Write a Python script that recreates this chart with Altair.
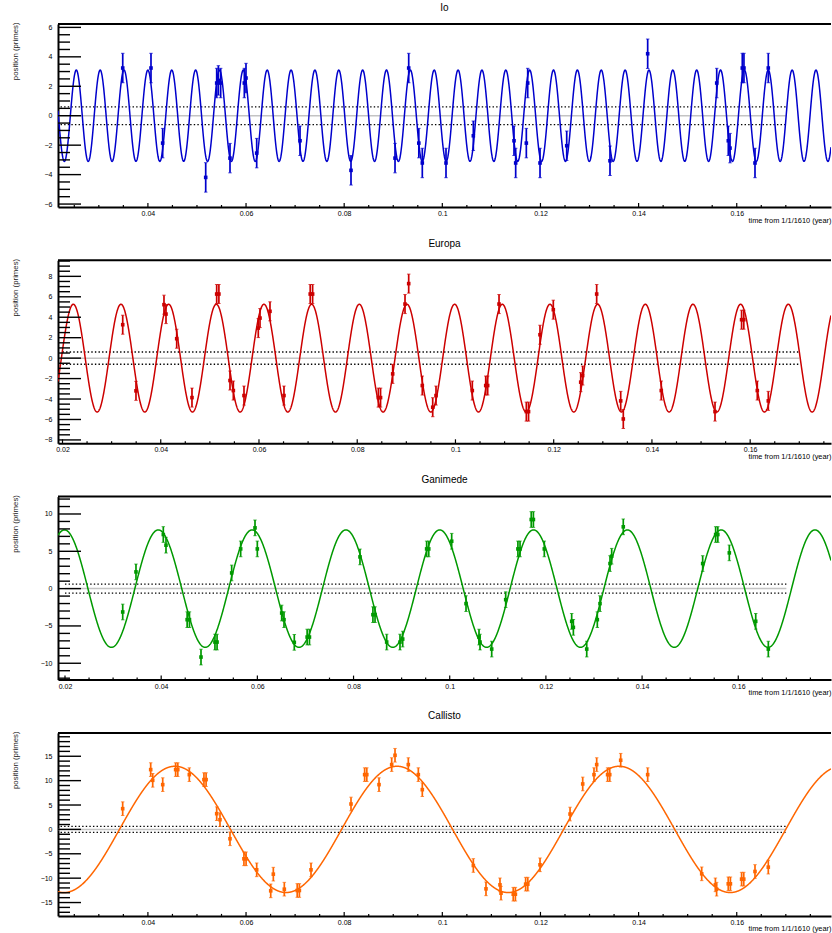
import altair as alt
import numpy as np
import pandas as pd

FONT = "Liberation Sans"
W, H = 773, 183

moon_names = ["Io", "Europa", "Ganimede", "Callisto"]
moon_colors = ["#0000cc", "#cc0000", "#009900", "#ff6600"]

# observed positions (time in years from 1/1/1610, position in primes)
io_t = [0.03487, 0.04063, 0.04301, 0.05178, 0.05402, 0.05436, 0.05483, 0.05673, 0.05965, 0.05999,
        0.06217, 0.0710, 0.08139, 0.09036, 0.09315, 0.09521, 0.09592, 0.10075, 0.10632, 0.11461,
        0.11495, 0.11712, 0.1174, 0.11991, 0.12535, 0.13417, 0.14185, 0.15592, 0.15828, 0.15863,
        0.16113, 0.16147, 0.16372, 0.16643]
io_v = [3.24, 3.24, -1.86, -4.19, 2.22, 2.4, 2.22, -2.88, 2.22, 2.56,
        -2.54, -1.70, -3.71, -2.88, 3.24, -1.86, -3.21, -3.21, -1.36, -1.70,
        -3.21, -1.86, 2.22, -3.21, -2.04, -3.06, 4.21, 2.22, -1.70, -2.2,
        3.24, 3.24, -3.21, 3.24]

europa_t = [0.03226, 0.03496, 0.04066, 0.04107, 0.04325, 0.04636, 0.05139, 0.05184, 0.0541, 0.05478,
            0.05695, 0.05986, 0.06021, 0.06224, 0.06509, 0.07043, 0.07092, 0.0843, 0.08475, 0.08722,
            0.08973, 0.09048, 0.09325, 0.09537, 0.09604, 0.10343, 0.10616, 0.10656, 0.10887, 0.11443,
            0.11488, 0.11721, 0.11992, 0.1255, 0.1259, 0.12875, 0.13364, 0.13417, 0.1419, 0.15284,
            0.15825, 0.1587, 0.16145, 0.16369]
europa_v = [3.27, -3.2, 5.23, 4.31, 1.9, -3.86, 6.27, 6.27, -2.19, -3.17,
            -3.66, 2.94, 3.92, 4.58, -3.66, 6.27, 6.27, -3.86, -3.86, -1.54,
            5.29, 7.29, -2.68, -4.8, -3.66, -3.17, -2.68, -2.68, 5.29, -5.23,
            -5.23, 2.29, 4.74, -2.35, -1.7, 6.27, -4.18, -5.95, -3.17, -5.23,
            3.76, 3.76, -3.17, -4.18]

ganimede_t = [0.0320, 0.03476, 0.04044, 0.041, 0.0454, 0.04588, 0.04828, 0.05118, 0.05162, 0.05466,
              0.05653, 0.05951, 0.05999, 0.06506, 0.06554, 0.06768, 0.07035, 0.07083, 0.08134, 0.08403,
              0.08447, 0.08689, 0.08966, 0.09022, 0.0952, 0.09564, 0.10041, 0.10339, 0.10609, 0.1063,
              0.10873, 0.11164, 0.11418, 0.11462, 0.11695, 0.1174, 0.11967, 0.12536, 0.12571, 0.12849,
              0.13069, 0.13125, 0.13333, 0.13368, 0.13609, 0.1526, 0.1553, 0.15575, 0.15814, 0.16363,
              0.16625]
ganimede_v = [-3.13, 2.24, 7.25, 5.82, -4.16, -4.16, -9.17, -7.16, -7.16, 2.1,
              5.32, 8.14, 5.32, -3.27, -4.16, -7.2, -6.49, -6.49, 4.25, -3.49,
              -3.49, -7.16, -7.16, -6.76, 5.32, 5.32, 6.35, -2.01, -6.49, -7.16,
              -8.1, -1.48, 5.32, 5.32, 9.26, 9.26, 5.32, -4.38, -5.19, -8.1,
              -4.16, -2.01, 3.36, 4.34, 8.28, 3.36, 7.25, 7.25, 4.79, -4.38,
              -8.1]

callisto_t = [0.03486, 0.04057, 0.04098, 0.04302, 0.04565, 0.04609, 0.04844, 0.05142, 0.05186, 0.05402,
              0.05469, 0.05673, 0.05957, 0.06001, 0.06217, 0.06503, 0.06556, 0.0678, 0.07043, 0.07087,
              0.07324, 0.08139, 0.08417, 0.08461, 0.0871, 0.08968, 0.09036, 0.09307, 0.09511, 0.09592,
              0.10632, 0.1089, 0.11175, 0.11196, 0.11445, 0.11489, 0.11698, 0.11742, 0.11991, 0.12603,
              0.12861, 0.13091, 0.13146, 0.13368, 0.13412, 0.13635, 0.14185, 0.15286, 0.15565, 0.1559,
              0.15827, 0.15871, 0.16099, 0.16143, 0.16372, 0.16643]
callisto_v = [4.25, 12.26, 10.07, 9.18, 12.26, 12.26, 11.23, 10.21, 10.21, 3.22,
              1.99, -1.92, -6.03, -6.03, -8.29, -12.6, -9.18, -12.26, -12.53, -12.53,
              -8.29, 5.21, 11.23, 11.23, 9.18, 13.29, 15.2, 13.29, 11.23, 8.15,
              -7.4, -12.19, -11.37, -13.08, -13.29, -13.29, -11.23, -11.23, -7.26, 3.15,
              9.32, 11.23, 13.29, 11.23, 11.23, 14.18, 11.23, -9.11, -11.37, -12.26,
              -11.16, -11.16, -10.2, -10.2, -8.63, -7.74]

obs_t = [io_t, europa_t, ganimede_t, callisto_t]
obs_v = [io_v, europa_v, ganimede_v, callisto_v]
point_errors = [1.0, 0.93, 1.05, 1.4]

# fitted sinusoid parameters (amplitude, period in years, time of a maximum)
fit_amplitude = [3.1, 5.27, 7.87, 12.95]
fit_period = [0.0048626, 0.009704, 0.019508, 0.04526]
fit_peak = [0.02541, 0.0222, 0.0394, 0.04552]

x_domains = [[0.021679, 0.179209], [0.019084, 0.176454], [0.018544, 0.179284], [0.021679, 0.179209]]
y_domains = [[-6.2, 6.23], [-8.33, 9.57], [-12.19, 12.33], [-17.74, 19.79]]
y_major_ticks = [[-6, -4, -2, 0, 2, 4, 6], [-8, -6, -4, -2, 0, 2, 4, 6, 8],
                 [-10, -5, 0, 5, 10], [-15, -10, -5, 0, 5, 10, 15]]
y_minor_step = [0.5, 0.5, 1, 1]
x_major_ticks = [0.02, 0.04, 0.06, 0.08, 0.1, 0.12, 0.14, 0.16]
x_minor_step = 0.005
band_half = 0.6
band_range = [0.02, 0.17]

x_title = "time from 1/1/1610 (year)"
y_title = "position (primes)"


def panel(i):
    c = moon_colors[i]
    xd, yd = x_domains[i], y_domains[i]
    xs = alt.Scale(domain=xd, nice=False, zero=False)
    ys = alt.Scale(domain=yd, nice=False, zero=False)
    xvals = [v for v in x_major_ticks if xd[0] <= v <= xd[1]]
    xaxis = alt.Axis(values=xvals, format="~g", labelFontSize=7, labelPadding=2.5, labelColor="black",
                     labelFlush=False, labelOverlap=False, ticks=False, tickSize=0, grid=False,
                     domainColor="black", domainWidth=2, title=x_title, titleFontSize=7.4,
                     titleFontWeight="normal", titleColor="black", titleAnchor="end", titleAlign="right",
                     titleX=W, titleY=9, titleBaseline="top")
    yaxis = alt.Axis(values=y_major_ticks[i], format="d", labelFontSize=7, labelPadding=6, labelColor="black",
                     labelFlush=False, labelOverlap=False, ticks=False, tickSize=0, grid=False,
                     domainColor="black", domainWidth=2, title=y_title, titleFontSize=7.8,
                     titleFontWeight="normal", titleColor="#222222", titleAngle=270, titleX=-43, titleY=-2,
                     titleAlign="right", titleBaseline="middle")

    def X(f):
        return alt.X(f, type="quantitative", scale=xs, axis=xaxis)

    def Y(f):
        return alt.Y(f, type="quantitative", scale=ys, axis=yaxis)

    tt = np.linspace(xd[0], xd[1], 3000)
    curve_df = pd.DataFrame({"t": tt, "y": fit_amplitude[i] * np.cos(2 * np.pi * (tt - fit_peak[i]) / fit_period[i])})
    err = point_errors[i]
    pts = pd.DataFrame({"t": obs_t[i], "v": obs_v[i]})
    pts["lo"] = pts["v"] - err
    pts["hi"] = pts["v"] + err

    zero_df = pd.DataFrame({"t0": [band_range[0]], "t1": [band_range[1]], "y": [0.0]})
    band_df = pd.DataFrame({"t0": [band_range[0]] * 2, "t1": [band_range[1]] * 2, "y": [-band_half, band_half]})

    step = y_minor_step[i]
    ymin = [round(v, 3) for v in np.arange(np.ceil(yd[0] / step) * step, yd[1], step)
            if all(abs(v - m) > 1e-6 for m in y_major_ticks[i])]
    ymaj_df = pd.DataFrame({"v": y_major_ticks[i]})
    ymin_df = pd.DataFrame({"v": ymin})
    xmin = [round(v, 4) for v in np.arange(0.015, 0.18, x_minor_step)
            if xd[0] <= v <= xd[1] and all(abs(v - m) > 1e-6 for m in x_major_ticks)]
    xmaj_df = pd.DataFrame({"t": xvals})
    xmin_df = pd.DataFrame({"t": xmin})

    layers = [
        alt.Chart(zero_df).mark_rule(color="#c4c4c4", strokeWidth=1.5, clip=True).encode(x=X("t0"), x2="t1", y=Y("y")),
        alt.Chart(band_df).mark_rule(color="black", strokeWidth=1.3, strokeDash=[1.4, 2.2], clip=True).encode(
            x=X("t0"), x2="t1", y=Y("y")),
        alt.Chart(curve_df).mark_line(color=c, strokeWidth=1.5, clip=True).encode(x=X("t"), y=Y("y")),
        alt.Chart(pts).mark_rule(color=c, strokeWidth=1.7).encode(x=X("t"), y=Y("lo"), y2="hi"),
        alt.Chart(pts).mark_tick(color=c, orient="horizontal", size=3.5, thickness=1).encode(x=X("t"), y=Y("lo")),
        alt.Chart(pts).mark_tick(color=c, orient="horizontal", size=3.5, thickness=1).encode(x=X("t"), y=Y("hi")),
        alt.Chart(pts).mark_square(color=c, size=13, opacity=1).encode(x=X("t"), y=Y("v")),
        alt.Chart(ymaj_df).mark_rule(color="black", strokeWidth=1.4).encode(y=Y("v"), x=alt.value(0), x2=alt.value(23)),
        alt.Chart(ymin_df).mark_rule(color="black", strokeWidth=1.4).encode(y=Y("v"), x=alt.value(0), x2=alt.value(12)),
        alt.Chart(xmaj_df).mark_rule(color="black", strokeWidth=1.2).encode(x=X("t"), y=alt.value(H), y2=alt.value(H - 4)),
        alt.Chart(xmin_df).mark_rule(color="black", strokeWidth=1.2).encode(x=X("t"), y=alt.value(H), y2=alt.value(H - 2)),
        alt.Chart(pd.DataFrame({"a": [0]})).mark_rule(color="black", strokeWidth=2).encode(
            x=alt.value(0), x2=alt.value(W), y=alt.value(0)),
    ]
    return alt.layer(*layers).properties(
        width=W, height=H,
        title=alt.TitleParams(text=moon_names[i], fontSize=10, font=FONT, fontWeight="normal", color="black",
                              anchor="middle", frame="group", offset=1.5, baseline="alphabetic"),
    )


chart = alt.vconcat(*[panel(i) for i in range(4)], spacing=53.3, bounds="flush").properties(
    padding={"left": 11, "top": 2, "right": 0, "bottom": 0}
).configure_view(stroke=None).configure_axis(labelFont=FONT, titleFont=FONT).configure_title(font=FONT)

chart.save("out.html", embed_options={"renderer": "svg", "actions": False})
